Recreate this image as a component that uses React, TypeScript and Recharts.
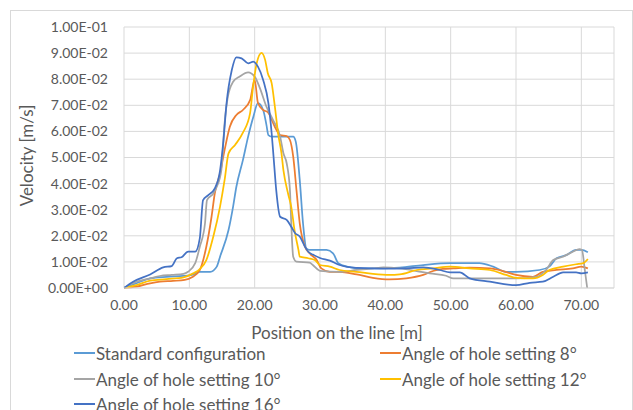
import { LineChart, Line, XAxis, YAxis, CartesianGrid, Label } from "recharts";

type Pt = [number, number];

// position on the line [m], velocity [m/s]
const standard: Pt[] = [
  [0, 0], [1.9, 0.0018], [4.0, 0.0037], [6.5, 0.0043], [9.1, 0.0046], [10.4, 0.005],
  [11.6, 0.0062], [13.2, 0.0062], [14.2, 0.0082], [14.7, 0.012], [16.0, 0.0222],
  [16.7, 0.0312], [17.2, 0.0388], [18.2, 0.049], [19.0, 0.058], [19.8, 0.0656],
  [20.5, 0.0708], [21.3, 0.0682], [21.8, 0.0625], [22.1, 0.0586], [22.6, 0.058],
  [25.1, 0.058], [25.9, 0.058], [26.3, 0.056], [26.9, 0.0414], [27.4, 0.0248],
  [27.9, 0.0152], [28.4, 0.0146], [31.0, 0.0146], [32.0, 0.0133], [32.8, 0.0095],
  [34.1, 0.0082], [36.6, 0.0075], [39.1, 0.0075], [42.2, 0.0078], [45.8, 0.0088],
  [49.9, 0.0095], [54.4, 0.0095], [56.5, 0.0082], [58.5, 0.0062], [60.0, 0.0062],
  [63.6, 0.0069], [65.1, 0.0082], [66.2, 0.0114], [67.7, 0.0126], [69.2, 0.0146],
  [70.0, 0.0146], [71.0, 0.0137],
];

const angle8: Pt[] = [
  [0, 0], [1.9, 0.0005], [4.0, 0.0018], [5.5, 0.0024], [7.5, 0.0027], [9.3, 0.0031],
  [10.4, 0.0041], [11.6, 0.0069], [12.6, 0.0158], [13.4, 0.0273], [13.9, 0.0363],
  [14.7, 0.0439], [15.4, 0.0529], [16.2, 0.0618], [17.2, 0.0663], [18.2, 0.0682],
  [19.3, 0.072], [20.0, 0.0797], [20.5, 0.0709], [21.3, 0.0682], [22.0, 0.0674],
  [23.1, 0.0617], [23.9, 0.0586], [24.9, 0.0582], [25.4, 0.0567], [25.9, 0.0503],
  [26.4, 0.0375], [26.9, 0.0248], [27.7, 0.0158], [28.4, 0.0133], [29.5, 0.0107],
  [30.2, 0.0075], [31.5, 0.0062], [33.0, 0.0062], [35.6, 0.0052], [38.1, 0.0039],
  [40.6, 0.0033], [43.2, 0.0037], [45.8, 0.005], [47.3, 0.0065], [48.8, 0.0073],
  [50.4, 0.0075], [52.9, 0.0078], [56.0, 0.0075], [58.0, 0.0065], [60.0, 0.005],
  [62.6, 0.0043], [64.1, 0.0062], [66.2, 0.0069], [68.7, 0.0075], [70.0, 0.0082],
  [71.0, 0.0075],
];

const angle10: Pt[] = [
  [0, 0], [1.9, 0.0024], [4.0, 0.0037], [5.5, 0.0046], [7.3, 0.005], [9.1, 0.0054],
  [9.8, 0.0062], [10.9, 0.0095], [11.6, 0.0158], [12.4, 0.0248], [12.7, 0.0337],
  [13.7, 0.0363], [14.2, 0.0388], [14.9, 0.0452], [15.4, 0.0632], [15.9, 0.0733],
  [16.7, 0.079], [17.7, 0.081], [19.0, 0.0826], [20.0, 0.081], [20.8, 0.0766],
  [21.8, 0.0695], [22.8, 0.0644], [23.9, 0.058], [24.4, 0.0516], [24.9, 0.0478],
  [25.4, 0.0375], [25.6, 0.0248], [25.9, 0.012], [26.4, 0.0101], [28.4, 0.0097],
  [28.9, 0.0088], [30.0, 0.0066], [33.0, 0.0062], [35.6, 0.0069], [38.1, 0.0075],
  [39.7, 0.0079], [42.2, 0.0075], [44.8, 0.0065], [46.8, 0.0056], [49.3, 0.0047],
  [50.4, 0.0037], [54.9, 0.0037], [60.0, 0.0037], [63.1, 0.0043], [64.6, 0.0069],
  [65.7, 0.0107], [67.2, 0.012], [68.7, 0.0139], [69.7, 0.0149], [70.1, 0.0146],
  [70.5, 0.0075], [70.9, 0],
];

const angle12: Pt[] = [
  [0, 0], [1.9, 0.0011], [4.0, 0.0028], [6.5, 0.0034], [9.1, 0.0041], [10.6, 0.0056],
  [11.6, 0.0072], [12.6, 0.0107], [13.7, 0.02], [14.7, 0.0312], [15.4, 0.0414],
  [16.0, 0.0516], [17.0, 0.0548], [18.2, 0.0595], [19.3, 0.067], [19.7, 0.0759],
  [20.3, 0.086], [21.05, 0.0901], [21.6, 0.0874], [22.0, 0.0824], [22.6, 0.0785],
  [23.1, 0.0693], [23.6, 0.059], [24.1, 0.0517], [24.4, 0.0452], [25.1, 0.0363],
  [25.6, 0.0311], [26.1, 0.0222], [26.7, 0.0146], [26.9, 0.012], [28.2, 0.0114],
  [29.2, 0.0107], [30.0, 0.0088], [31.5, 0.0082], [33.0, 0.0069], [35.6, 0.0062],
  [38.1, 0.0054], [40.6, 0.005], [42.2, 0.0052], [44.8, 0.0069], [47.3, 0.0075],
  [49.9, 0.0082], [52.9, 0.0075], [56.0, 0.0069], [58.5, 0.005], [60.0, 0.0039],
  [62.6, 0.0037], [64.1, 0.005], [65.1, 0.0069], [67.2, 0.0082], [69.2, 0.0091],
  [70.3, 0.0095], [71.0, 0.0111],
];

const angle16: Pt[] = [
  [0, 0], [1.4, 0.0024], [4.0, 0.0052], [6.0, 0.0079], [7.3, 0.0084], [8.1, 0.0114],
  [8.8, 0.0118], [9.8, 0.0139], [10.9, 0.0139], [11.6, 0.019], [12.1, 0.0337],
  [12.9, 0.0356], [13.9, 0.0382], [14.7, 0.045], [15.2, 0.056], [15.7, 0.0708],
  [16.5, 0.0835], [17.2, 0.0884], [18.0, 0.088], [19.0, 0.0861], [19.8, 0.0867],
  [20.5, 0.0848], [21.3, 0.0797], [22.1, 0.0708], [22.6, 0.0593], [22.9, 0.05],
  [23.3, 0.0375], [23.9, 0.0273], [24.9, 0.0261], [25.6, 0.0235], [26.2, 0.021],
  [26.9, 0.0197], [27.7, 0.0158], [28.2, 0.0139], [28.9, 0.0128], [30.0, 0.0115],
  [31.5, 0.0105], [33.0, 0.0088], [35.6, 0.0077], [39.7, 0.0074], [43.2, 0.0075],
  [45.8, 0.0079], [48.3, 0.0069], [49.9, 0.006], [51.4, 0.006], [52.9, 0.0037],
  [56.0, 0.0024], [60.0, 0.0011], [62.1, 0.002], [64.1, 0.0024], [65.7, 0.0043],
  [67.2, 0.006], [69.2, 0.006], [70.0, 0.0056], [71.0, 0.006],
];

const seriesNames = [
  "Standard configuration",
  "Angle of hole setting 8°",
  "Angle of hole setting 10°",
  "Angle of hole setting 12°",
  "Angle of hole setting 16°",
];
const seriesData = [standard, angle8, angle10, angle12, angle16];
const colors = ["#5B9BD5", "#ED7D31", "#A5A5A5", "#FFC000", "#4472C4"];

const xTicks = [0, 10, 20, 30, 40, 50, 60, 70];
const yTicks = [0, 0.01, 0.02, 0.03, 0.04, 0.05, 0.06, 0.07, 0.08, 0.09, 0.1];

const font = "Lato, 'Open Sans', sans-serif";
const textColor = "#595959";

function sci(v: number) {
  const [m, e] = v.toExponential(2).split("e");
  const n = Number(e);
  const sign = n < 0 ? "-" : "+";
  return `${m}E${sign}${String(Math.abs(n)).padStart(2, "0")}`;
}

function LegendBox() {
  const pos = [
    { left: 74, top: 343 },
    { left: 380, top: 343 },
    { left: 74, top: 369 },
    { left: 380, top: 369 },
    { left: 74, top: 394 },
  ];
  return (
    <div style={{ position: "absolute", left: 0, top: 0, width: 633, height: 410 }}>
      {seriesNames.map((name, i) => (
        <div
          key={name}
          style={{
            position: "absolute",
            left: pos[i].left,
            top: pos[i].top,
            display: "flex",
            alignItems: "center",
            height: 20,
            fontFamily: font,
            fontSize: 17,
            color: textColor,
            whiteSpace: "nowrap",
          }}
        >
          <span style={{ display: "inline-block", width: 21, height: 2, background: colors[i], marginRight: 1 }} />
          <span>{name}</span>
        </div>
      ))}
    </div>
  );
}

export default function App() {
  return (
    <div style={{ position: "absolute", left: 0, top: 0, width: 633, height: 410, background: "#fff", overflow: "hidden" }}>
      <div
        style={{
          position: "absolute",
          left: 10,
          top: 10,
          width: 621,
          height: 420,
          border: "1px solid #d9d9d9",
        }}
      />
      <LineChart
        width={633}
        height={410}
        margin={{ top: 27, right: 19, bottom: 72, left: 24 }}
        style={{ position: "absolute", left: 0, top: 0 }}
      >
        <CartesianGrid stroke="#d9d9d9" />
        <XAxis
          type="number"
          dataKey="x"
          domain={[0, 75]}
          ticks={xTicks}
          height={50}
          tickFormatter={(v: number) => v.toFixed(2)}
          axisLine={{ stroke: "#d9d9d9" }}
          tickLine={false}
          tickMargin={6}
          tick={{ fill: textColor, fontSize: 14, fontFamily: font }}
          allowDataOverflow
        >
          <Label
            value="Position on the line [m]"
            position="insideBottom"
            offset={0}
            dx={-32}
            dy={1}
            style={{ fill: textColor, fontSize: 17, fontFamily: font }}
          />
        </XAxis>
        <YAxis
          type="number"
          domain={[0, 0.1]}
          ticks={yTicks}
          width={100}
          tickFormatter={sci}
          axisLine={false}
          tickLine={false}
          tickMargin={10}
          tick={{ fill: textColor, fontSize: 14, fontFamily: font }}
        >
          <Label
            value="Velocity [m/s]"
            angle={-90}
            position="insideLeft"
            offset={3}
            dy={-2}
            style={{ fill: textColor, fontSize: 17, fontFamily: font, textAnchor: "middle" }}
          />
        </YAxis>
        {seriesData.map((pts, i) => (
          <Line
            key={seriesNames[i]}
            name={seriesNames[i]}
            data={pts.map(([x, v]) => ({ x, v }))}
            dataKey="v"
            type="monotone"
            stroke={colors[i]}
            strokeWidth={1.75}
            dot={false}
            activeDot={false}
            isAnimationActive={false}
          />
        ))}
      </LineChart>
      <LegendBox />
    </div>
  );
}
